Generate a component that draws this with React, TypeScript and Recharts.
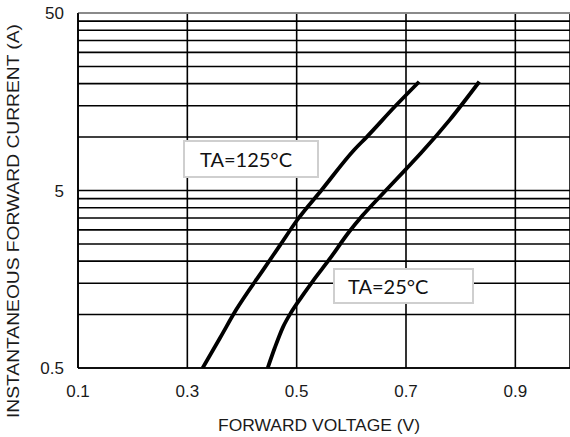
import {
  LineChart,
  Line,
  XAxis,
  YAxis,
  CartesianGrid,
  ReferenceLine,
  Label,
} from 'recharts';

// forward voltage (V) / instantaneous current (A)
const volt125 = [0.328, 0.36, 0.389, 0.44, 0.47, 0.501, 0.546, 0.605, 0.628, 0.681, 0.724];
const amp125 = [0.5, 0.74, 1.06, 1.81, 2.47, 3.41, 5.05, 8.46, 10, 15, 20.5];

const volt25 = [0.447, 0.46, 0.475, 0.49, 0.51, 0.53, 0.56, 0.595, 0.62, 0.663, 0.7, 0.727, 0.78, 0.834];
const amp25 = [0.5, 0.65, 0.85, 1.03, 1.27, 1.55, 2.05, 2.9, 3.6, 5.0, 6.6, 8.1, 12.5, 20.5];

const voltTicks = [0.1, 0.3, 0.5, 0.7, 0.9];
const currentTicks = [0.5, 1, 1.5, 2, 2.5, 3, 3.5, 4, 4.5, 5, 10, 15, 20, 25, 30, 35, 40, 45, 50];
const labeledCurrents = [0.5, 5, 50];

const data125 = volt125.map((v, i) => ({ v, a: amp125[i] }));
const data25 = volt25.map((v, i) => ({ v, a: amp25[i] }));

const axisFont = '"Liberation Sans", Arial, sans-serif';
const boxFont = 'Lato, "Open Sans", sans-serif';

const YTitle = () => (
  <text
    x={13}
    y={221}
    transform="rotate(-90 13 221)"
    textAnchor="middle"
    dominantBaseline="central"
    fill="#1a1a1a"
    fontSize={17}
    fontFamily={axisFont}
    textLength={394}
    lengthAdjust="spacingAndGlyphs"
  >
    INSTANTANEOUS FORWARD CURRENT (A)
  </text>
);

const XTitle = () => (
  <text
    x={319}
    y={431}
    textAnchor="middle"
    fill="#1a1a1a"
    fontSize={17}
    fontFamily={axisFont}
    textLength={202}
    lengthAdjust="spacingAndGlyphs"
  >
    FORWARD VOLTAGE (V)
  </text>
);

const boxStyle: React.CSSProperties = {
  position: 'absolute',
  boxSizing: 'border-box',
  background: '#fff',
  border: '2px solid #cfcfcf',
  display: 'flex',
  alignItems: 'center',
  fontFamily: boxFont,
  fontSize: 20,
  color: '#111',
};

export default function App() {
  return (
    <div
      style={{
        position: 'fixed',
        left: 0,
        top: 0,
        width: 570,
        height: 437,
        background: '#fff',
        overflow: 'hidden',
      }}
    >
      <LineChart width={570} height={437} margin={{ top: 13, right: 0, bottom: 0, left: 0 }}>
        <CartesianGrid stroke="#000" strokeWidth={1.6} />
        <XAxis
          type="number"
          dataKey="v"
          domain={[0.1, 1.0]}
          ticks={voltTicks}
          interval={0}
          allowDataOverflow
          height={69}
          tickLine={false}
          tickMargin={11}
          tickFormatter={(v: number) => v.toFixed(1)}
          axisLine={{ stroke: '#000', strokeWidth: 1.6 }}
          tick={{ fill: '#1a1a1a', fontSize: 17, fontFamily: axisFont }}
        >
          <Label content={<XTitle />} />
        </XAxis>
        <YAxis
          type="number"
          scale="log"
          dataKey="a"
          domain={[0.5, 50]}
          ticks={currentTicks}
          interval={0}
          allowDataOverflow
          width={78}
          tickLine={false}
          tickMargin={8}
          tickFormatter={(v: number) => (labeledCurrents.includes(v) ? String(v) : '')}
          axisLine={{ stroke: '#000', strokeWidth: 1.6 }}
          tick={{ fill: '#1a1a1a', fontSize: 17, fontFamily: axisFont }}
        >
          <Label content={<YTitle />} />
        </YAxis>
        <ReferenceLine y={50} stroke="#8a8a8a" strokeWidth={2} />
        <Line
          data={data125}
          dataKey="a"
          type="monotone"
          stroke="#000"
          strokeWidth={3.8}
          dot={false}
          isAnimationActive={false}
        />
        <Line
          data={data25}
          dataKey="a"
          type="monotone"
          stroke="#000"
          strokeWidth={3.8}
          dot={false}
          isAnimationActive={false}
        />
      </LineChart>
      <div style={{ ...boxStyle, left: 183, top: 140, width: 136, height: 38, paddingLeft: 15 }}>
        TA=125°C
      </div>
      <div style={{ ...boxStyle, left: 333, top: 268, width: 141, height: 36, paddingLeft: 13 }}>
        TA=25°C
      </div>
    </div>
  );
}
